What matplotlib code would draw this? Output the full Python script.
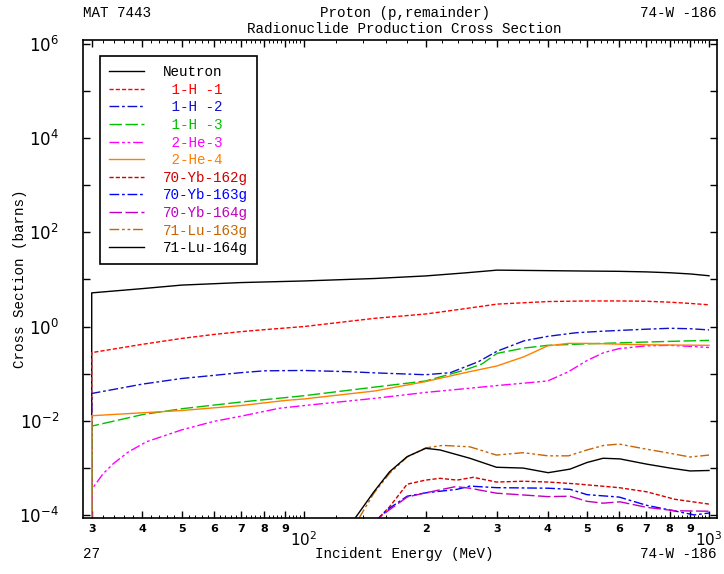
import numpy as np
import matplotlib
matplotlib.use("Agg")
import matplotlib.pyplot as plt

# Proton-induced radionuclide production on W-186 (values in barns vs MeV)
neutron_e = [30, 30, 40, 50, 70, 100, 150, 200, 250, 300, 400, 500, 600, 700, 800, 900, 1000]
neutron_xs = [1e-6, 5.2, 6.4, 7.6, 8.6, 9.3, 10.5, 11.9, 13.8, 15.8, 15.4, 15.1, 14.9, 14.5, 13.9, 13.1, 12.0]

h1_e = [30, 30, 40, 50, 60, 70, 80, 100, 150, 200, 250, 300, 400, 500, 600, 700, 800, 900, 1000]
h1_xs = [1e-6, 0.28, 0.42, 0.56, 0.68, 0.78, 0.86, 1.0, 1.5, 1.85, 2.4, 3.0, 3.4, 3.5, 3.5, 3.45, 3.3, 3.1, 2.9]

h2_e = [30, 30, 40, 50, 60, 70, 80, 100, 130, 150, 200, 230, 270, 300, 350, 400, 470, 550, 700, 800, 900, 1000]
h2_xs = [1e-6, 0.038, 0.060, 0.079, 0.092, 0.105, 0.115, 0.117, 0.110, 0.104, 0.095, 0.105, 0.18, 0.30, 0.50, 0.62, 0.74, 0.80, 0.88, 0.92, 0.90, 0.85]

h3_e = [30, 30, 40, 50, 70, 90, 100, 150, 200, 250, 275, 300, 350, 400, 500, 700, 1000]
h3_xs = [1e-6, 0.0077, 0.0135, 0.018, 0.025, 0.031, 0.034, 0.052, 0.070, 0.12, 0.16, 0.27, 0.35, 0.40, 0.43, 0.47, 0.51]

he3_e = [30, 30, 32, 34, 37, 41, 50, 60, 70, 87, 100, 150, 200, 250, 300, 350, 400, 450, 500, 550, 600, 700, 800, 900, 1000]
he3_xs = [1e-6, 3.5e-4, 7.5e-4, 1.25e-3, 2.2e-3, 3.6e-3, 6.4e-3, 9.7e-3, 0.0125, 0.0184, 0.021, 0.030, 0.040, 0.048, 0.056, 0.063, 0.070, 0.11, 0.19, 0.28, 0.34, 0.39, 0.40, 0.38, 0.36]

he4_e = [30, 30, 50, 70, 90, 100, 150, 200, 250, 300, 350, 400, 450, 500, 700, 1000]
he4_xs = [1e-6, 0.0128, 0.0165, 0.021, 0.027, 0.029, 0.043, 0.068, 0.105, 0.146, 0.23, 0.39, 0.44, 0.44, 0.41, 0.40]

yb162_e = [145, 153, 163, 180, 200, 217, 239, 262, 299, 348, 401, 466, 600, 702, 824, 1000]
yb162_xs = [3e-5, 8.6e-5, 1.5e-4, 4.5e-4, 5.5e-4, 6.0e-4, 5.5e-4, 6.3e-4, 5.0e-4, 5.2e-4, 5.0e-4, 4.6e-4, 3.8e-4, 3.1e-4, 2.15e-4, 1.7e-4]

yb163_e = [145, 153, 163, 180, 200, 239, 257, 299, 401, 454, 500, 600, 702, 850, 920, 1000]
yb163_xs = [3e-5, 8.6e-5, 1.4e-4, 2.5e-4, 2.95e-4, 3.5e-4, 4.1e-4, 3.8e-4, 3.7e-4, 3.5e-4, 2.7e-4, 2.4e-4, 1.6e-4, 1.15e-4, 1.0e-4, 1.1e-4]

yb164_e = [145, 153, 163, 180, 200, 237, 257, 299, 401, 454, 500, 548, 603, 702, 824, 1000]
yb164_xs = [3e-5, 8.6e-5, 1.3e-4, 2.4e-4, 2.95e-4, 4.0e-4, 3.7e-4, 2.9e-4, 2.45e-4, 2.5e-4, 1.95e-4, 1.78e-4, 1.9e-4, 1.45e-4, 1.23e-4, 1.2e-4]

lu163_e = [130, 137, 149, 163, 180, 200, 220, 257, 299, 348, 401, 450, 500, 550, 600, 700, 802, 898, 1000]
lu163_xs = [3e-5, 8.6e-5, 2.9e-4, 7.7e-4, 1.7e-3, 2.65e-3, 3.0e-3, 2.8e-3, 1.87e-3, 2.1e-3, 1.8e-3, 1.8e-3, 2.4e-3, 3.0e-3, 3.2e-3, 2.5e-3, 2.04e-3, 1.7e-3, 1.87e-3]

lu164_e = [125, 134, 149, 163, 180, 200, 217, 257, 299, 348, 401, 454, 500, 548, 603, 702, 802, 898, 1000]
lu164_xs = [3e-5, 8.6e-5, 3.1e-4, 8.3e-4, 1.73e-3, 2.6e-3, 2.4e-3, 1.6e-3, 1.03e-3, 9.9e-4, 7.9e-4, 9.4e-4, 1.3e-3, 1.6e-3, 1.55e-3, 1.2e-3, 9.9e-4, 8.6e-4, 8.8e-4]

labels = ["Neutron", " 1-H -1", " 1-H -2", " 1-H -3", " 2-He-3", " 2-He-4",
          "70-Yb-162g", "70-Yb-163g", "70-Yb-164g", "71-Lu-163g", "71-Lu-164g"]
energies = [neutron_e, h1_e, h2_e, h3_e, he3_e, he4_e, yb162_e, yb163_e, yb164_e, lu163_e, lu164_e]
xsecs = [neutron_xs, h1_xs, h2_xs, h3_xs, he3_xs, he4_xs, yb162_xs, yb163_xs, yb164_xs, lu163_xs, lu164_xs]
colors = ["#000000", "#ff0000", "#1010c8", "#00c000", "#ff00ff", "#ff8000",
          "#d00000", "#0000ff", "#c000c0", "#c86400", "#000000"]
dashes = [None, (3, 1.5), (7, 2, 2, 2), (9, 2.5), (7, 2, 2, 2, 2, 2), None,
          (3, 1.5), (7, 2, 2, 2), (9, 2.5), (7, 2, 2, 2, 2, 2), None]

mono = "Liberation Mono"

fig = plt.figure(figsize=(7.24, 5.74), dpi=100)
ax = fig.add_axes([0.1142, 0.0976, 0.8765, 0.8327])
ax.set_xscale("log")
ax.set_yscale("log")
ax.set_xlim(28.5, 1048)
ax.set_ylim(10**-4.064, 10**6.085)

for e, xs, c, d, lab in zip(energies, xsecs, colors, dashes, labels):
    line, = ax.plot(e, xs, color=c, lw=1.0, label=lab)
    if d is not None:
        line.set_dashes(d)

# y axis: a tick per decade, labels on even decades only
decades = np.arange(-4, 7)
ax.set_yticks([10.0**k for k in decades])
ax.set_yticklabels([r"$10^{%d}$" % k if k % 2 == 0 else "" for k in decades], fontsize=12)
ax.yaxis.set_minor_locator(matplotlib.ticker.NullLocator())
ax.tick_params(axis="y", which="major", direction="in", length=5, width=1,
               right=True, left=True, pad=17)

# x axis: integer ticks plus fine minor ticks, labels drawn by hand
major_x = [30, 40, 50, 60, 70, 80, 90, 100, 200, 300, 400, 500, 600, 700, 800, 900, 1000]
minor_x = [v for v in np.arange(30, 100, 2)] + [v for v in np.arange(100, 1001, 20)]
ax.set_xticks(major_x)
ax.set_xticks(minor_x, minor=True)
ax.set_xticklabels([])
ax.xaxis.set_minor_formatter(matplotlib.ticker.NullFormatter())
ax.tick_params(axis="x", which="major", direction="in", length=5, width=1, top=True)
ax.tick_params(axis="x", which="minor", direction="in", length=2.5, width=0.7, top=True)

digit_ticks = [30, 40, 50, 60, 70, 80, 90, 200, 300, 400, 500, 600, 700, 800, 900]
xtr = ax.get_xaxis_transform()
for v in digit_ticks:
    lead = str(v)[0]
    ax.text(v, -0.024, lead, transform=xtr, ha="center", va="center",
            fontsize=8, fontweight="bold", family="DejaVu Sans")
for v, lab in [(100, r"$10^{2}$"), (1000, r"$10^{3}$")]:
    ax.text(v, -0.046, lab, transform=xtr, ha="center", va="center", fontsize=11)

for s in ax.spines.values():
    s.set_linewidth(1.2)

leg = ax.legend(loc="upper left", bbox_to_anchor=(0.0273, 0.9665), borderaxespad=0,
                prop={"family": mono, "size": 10.3}, labelcolor="linecolor",
                handlelength=2.45, handletextpad=1.3, borderpad=0.65, labelspacing=0.25,
                fancybox=False, framealpha=1, edgecolor="black")
leg.get_frame().set_linewidth(1.2)

# header and footer annotations
fig.text(0.115, 0.977, "MAT 7443", family=mono, fontsize=10.3, ha="left", va="center")
fig.text(0.559, 0.977, "Proton (p,remainder)", family=mono, fontsize=10.3, ha="center", va="center")
fig.text(0.989, 0.977, "74-W -186", family=mono, fontsize=10.3, ha="right", va="center")
fig.text(0.559, 0.949, "Radionuclide Production Cross Section", family=mono, fontsize=10.3,
         ha="center", va="center")
fig.text(0.115, 0.034, "27", family=mono, fontsize=10.3, ha="left", va="center")
fig.text(0.559, 0.034, "Incident Energy (MeV)", family=mono, fontsize=10.3, ha="center", va="center")
fig.text(0.989, 0.034, "74-W -186", family=mono, fontsize=10.3, ha="right", va="center")
fig.text(0.028, 0.514, "Cross Section (barns)", family=mono, fontsize=10.3, rotation=90,
         ha="center", va="center")

fig.savefig("out.png", dpi=100)
